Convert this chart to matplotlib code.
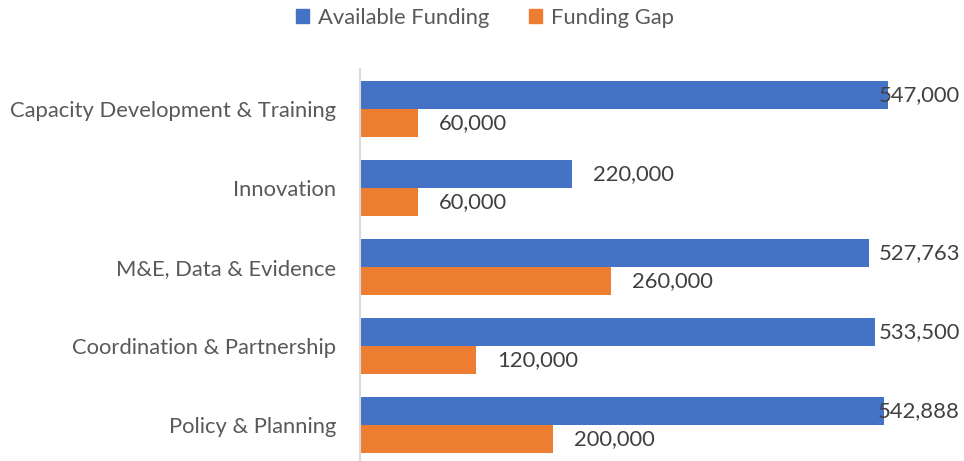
import numpy as np
import matplotlib
matplotlib.use('Agg')
import matplotlib.pyplot as plt
from matplotlib.patches import Patch

# data, top to bottom as in the chart
categories = ['Capacity Development & Training', 'Innovation', 'M&E, Data & Evidence',
              'Coordination & Partnership', 'Policy & Planning']
available = [547000, 220000, 527763, 533500, 542888]
gap = [60000, 60000, 260000, 120000, 200000]

blue = '#4472C4'
orange = '#ED7D31'
fs = 15.8

plt.rcParams['font.family'] = ['Lato', 'DejaVu Sans']

W, H = 964, 461
fig = plt.figure(figsize=(W/100, H/100), dpi=100)
# axes box in pixels: left 360, right 960, top 69.5, bottom 464.5
ax = fig.add_axes([360/W, (H-464.5)/H, 600/W, 395/H])

y = np.arange(len(categories))
bh = 28/79
ax.barh(y - bh/2, available, height=bh, color=blue)
ax.barh(y + bh/2, gap, height=bh, color=orange)

xmax = 600/528*547000
ax.set_xlim(0, xmax)
ax.set_ylim(len(categories)-0.5, -0.5)

# data labels (long bars get pushed against the right edge, like excel does)
for i, (a, g) in enumerate(zip(available, gap)):
    for v, yy in ((a, y[i]-bh/2), (g, y[i]+bh/2)):
        txt = f'{v:,}'
        if v > 500000:
            ax.text(1.0, yy, txt, transform=ax.get_yaxis_transform(), ha='right', va='center',
                    fontsize=fs, color='#404040')
        else:
            ax.annotate(txt, (v, yy), xytext=(21, 0), textcoords='offset pixels',
                        ha='left', va='center', fontsize=fs, color='#404040')

ax.set_yticks(y)
ax.set_yticklabels(categories, fontsize=fs, color='#595959')
ax.tick_params(axis='y', length=0, pad=17)
ax.set_xticks([])
for s in ['top', 'right', 'bottom']:
    ax.spines[s].set_visible(False)
ax.spines['left'].set_color('#D9D9D9')
ax.spines['left'].set_linewidth(1.5)

handles = [Patch(color=blue), Patch(color=orange)]
fig.legend(handles, ['Available Funding', 'Funding Gap'], loc='center', bbox_to_anchor=(485/W, 1-18/H),
           ncol=2, frameon=False, fontsize=fs, handlelength=0.6, handleheight=0.6,
           handletextpad=0.4, columnspacing=1.8, labelcolor='#595959')

fig.savefig('out.png', dpi=100)
